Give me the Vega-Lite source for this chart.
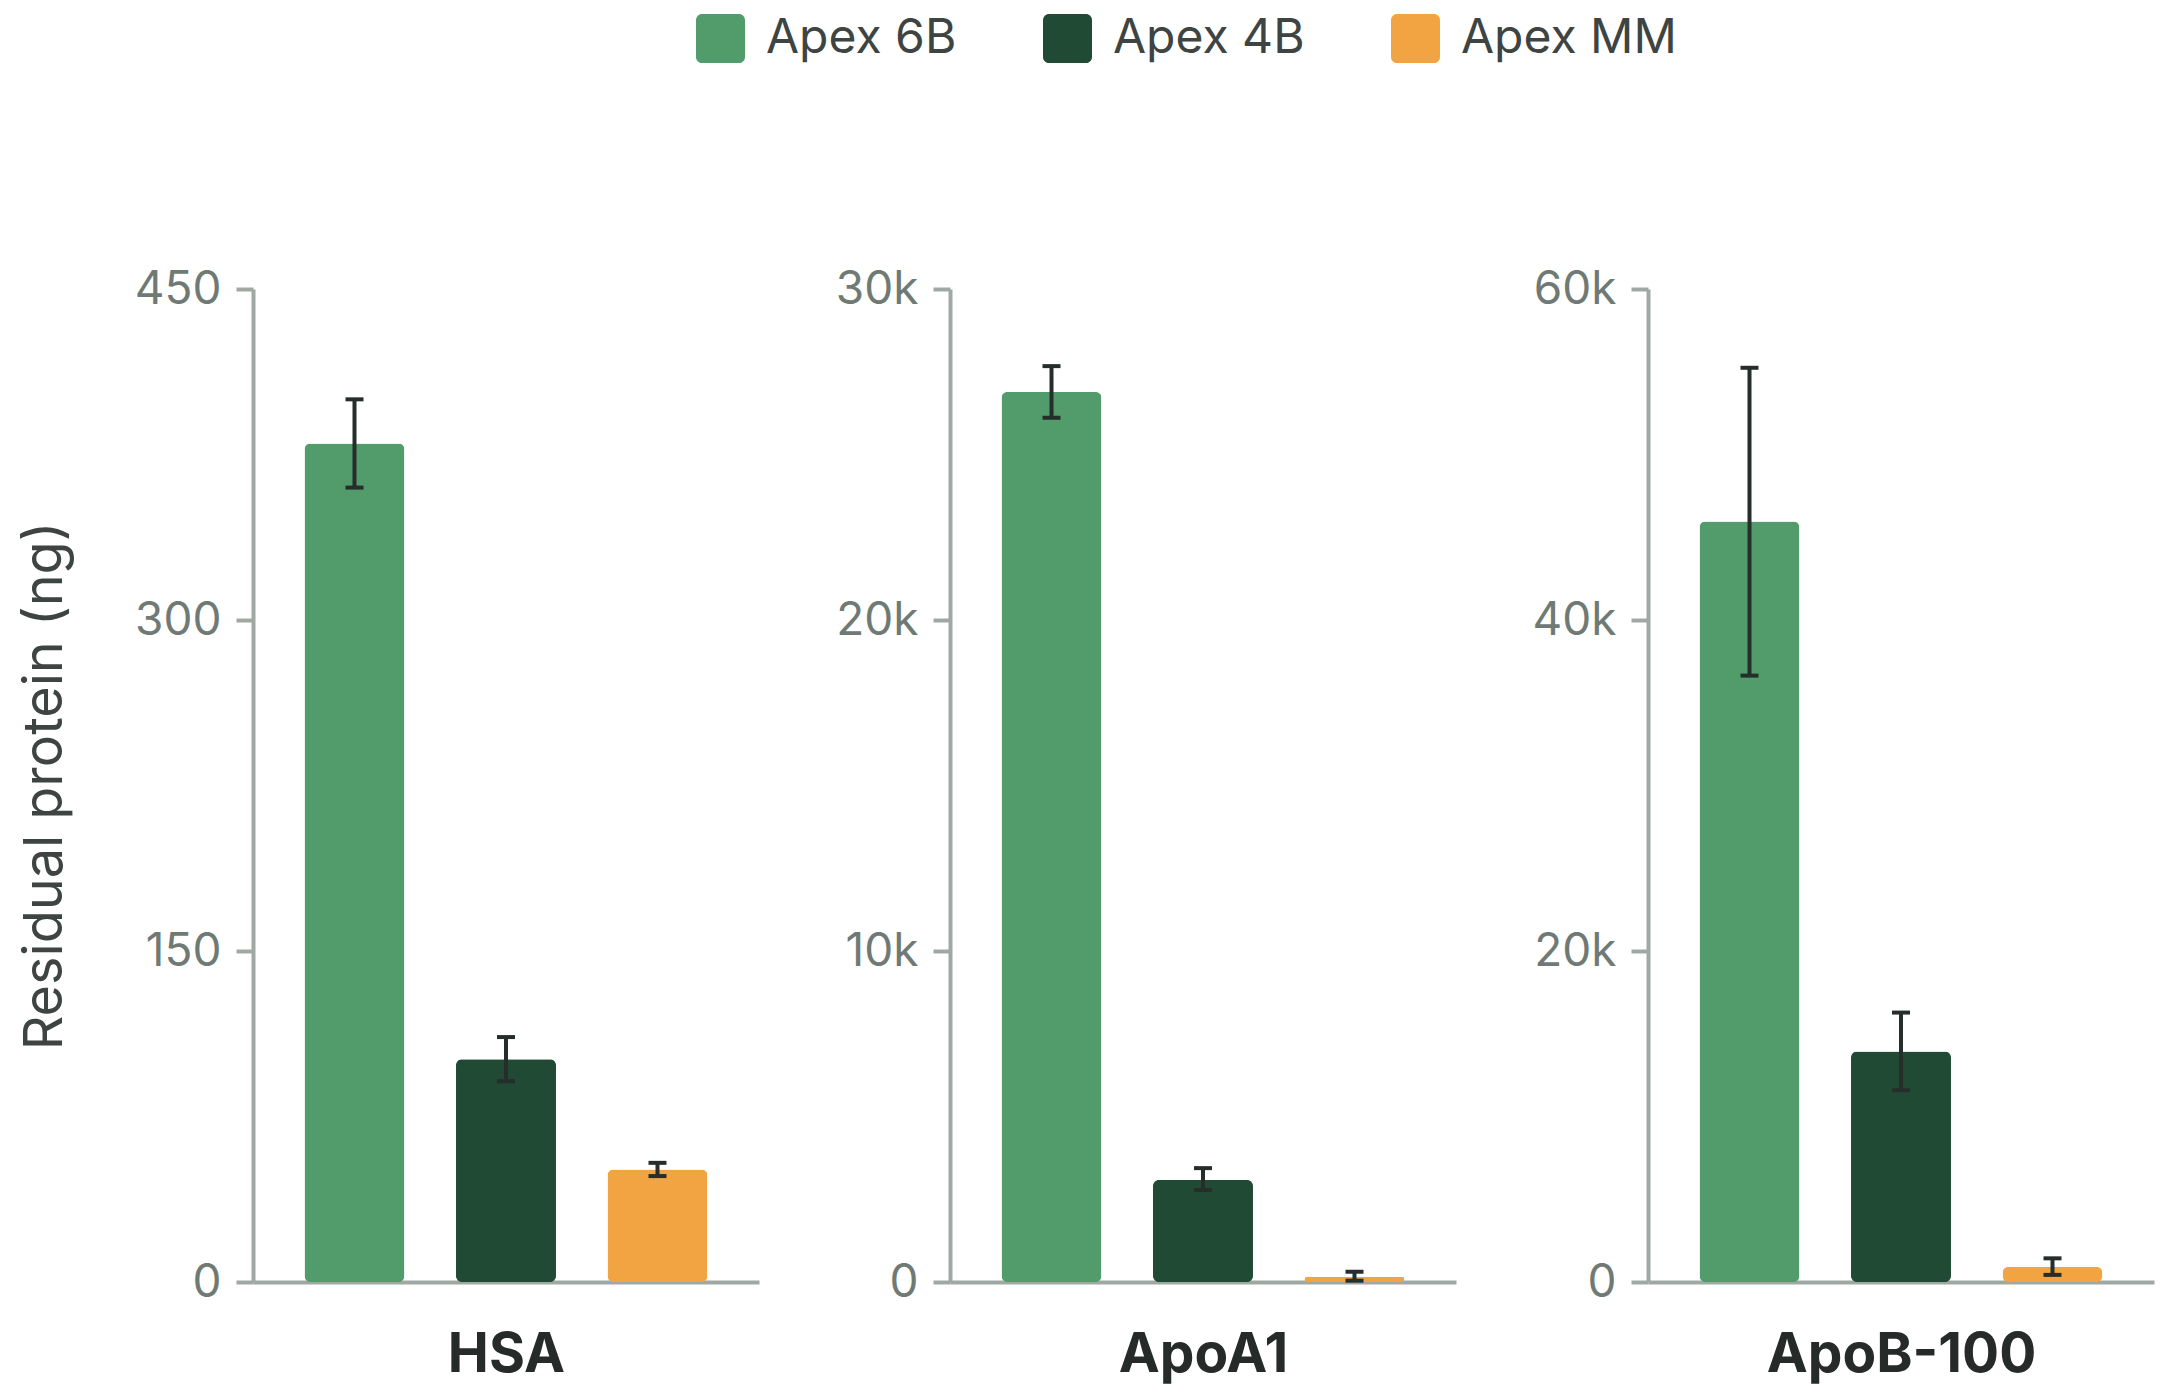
{
  "$schema": "https://vega.github.io/schema/vega-lite/v6.json",
  "background": "white",
  "padding": {"left": 18, "top": 14, "right": 10, "bottom": 10},
  "config": {
    "font": "Inter",
    "view": {"stroke": null},
    "axis": {
      "grid": false,
      "domainColor": "#a0a8a4", "domainWidth": 4,
      "tickColor": "#a0a8a4", "tickWidth": 4, "tickSize": 17,
      "labelColor": "#6f7a75", "labelFontSize": 46, "labelPadding": 15, "labelFontWeight": "normal",
      "titleColor": "#3d4441", "titleFontWeight": "normal"
    },
    "legend": {
      "symbolType": "M-0.75,-1H0.75A0.25,0.25 0 0 1 1,-0.75V0.75A0.25,0.25 0 0 1 0.75,1H-0.75A0.25,0.25 0 0 1 -1,0.75V-0.75A0.25,0.25 0 0 1 -0.75,-1Z",
      "symbolSize": 2401, "symbolStrokeWidth": 0, "symbolOpacity": 1,
      "labelFontSize": 48, "labelColor": "#3d4441", "labelOffset": 21, "labelLimit": 0,
      "columnPadding": 86, "padding": 0
    }
  },
  "data": {"values": [
    {"protein": "HSA", "resin": "Apex 6B", "value": 380, "lo": 360, "hi": 400},
    {"protein": "HSA", "resin": "Apex 4B", "value": 101, "lo": 91, "hi": 111},
    {"protein": "HSA", "resin": "Apex MM", "value": 51, "lo": 48, "hi": 54},
    {"protein": "ApoA1", "resin": "Apex 6B", "value": 26890, "lo": 26110, "hi": 27670},
    {"protein": "ApoA1", "resin": "Apex 4B", "value": 3080, "lo": 2780, "hi": 3440},
    {"protein": "ApoA1", "resin": "Apex MM", "value": 160, "lo": 40, "hi": 310},
    {"protein": "ApoB-100", "resin": "Apex 6B", "value": 45950, "lo": 36640, "hi": 55240},
    {"protein": "ApoB-100", "resin": "Apex 4B", "value": 13920, "lo": 11590, "hi": 16280},
    {"protein": "ApoB-100", "resin": "Apex MM", "value": 900, "lo": 430, "hi": 1430}
  ]},
  "resolve": {"scale": {"y": "independent", "color": "shared"}},
  "spacing": 76,
  "hconcat": [
    {
      "width": 506, "height": 993,
      "transform": [{"filter": "datum.protein === 'HSA'"}],
      "encoding": {
        "x": {"field": "resin", "type": "nominal", "sort": ["Apex 6B", "Apex 4B", "Apex MM"],
          "scale": {"paddingInner": 0.34, "paddingOuter": 0.34},
          "axis": {"title": "HSA", "labels": false, "ticks": false, "titleFontSize": 55, "titleFontWeight": "bold", "titleColor": "#262b29", "titlePadding": 46}}
      },
      "layer": [
        {
          "mark": {"type": "bar", "cornerRadius": 6},
          "encoding": {
            "y": {"field": "value", "type": "quantitative", "title": "Residual protein (ng)",
              "scale": {"domain": [0, 450], "nice": false},
              "axis": {"values": [0, 150, 300, 450], "titleFontSize": 54, "titlePadding": 62}},
            "color": {"field": "resin", "type": "nominal",
              "scale": {"domain": ["Apex 6B", "Apex 4B", "Apex MM"], "range": ["#529b6a", "#204a33", "#f2a443"]},
              "legend": {"orient": "none", "direction": "horizontal", "legendX": 443, "legendY": -275, "title": null}}
          }
        },
        {
          "mark": {"type": "rule", "strokeWidth": 4, "color": "#252e2a"},
          "encoding": {"y": {"field": "lo", "type": "quantitative", "title": "Residual protein (ng)"}, "y2": {"field": "hi"}}
        },
        {
          "mark": {"type": "tick", "orient": "horizontal", "size": 18, "thickness": 4, "color": "#252e2a", "opacity": 1},
          "encoding": {"y": {"field": "hi", "type": "quantitative", "title": "Residual protein (ng)"}}
        },
        {
          "mark": {"type": "tick", "orient": "horizontal", "size": 18, "thickness": 4, "color": "#252e2a", "opacity": 1},
          "encoding": {"y": {"field": "lo", "type": "quantitative", "title": "Residual protein (ng)"}}
        }
      ]
    },
    {
      "width": 506, "height": 993,
      "transform": [{"filter": "datum.protein === 'ApoA1'"}],
      "encoding": {
        "x": {"field": "resin", "type": "nominal", "sort": ["Apex 6B", "Apex 4B", "Apex MM"],
          "scale": {"paddingInner": 0.34, "paddingOuter": 0.34},
          "axis": {"title": "ApoA1", "labels": false, "ticks": false, "titleFontSize": 55, "titleFontWeight": "bold", "titleColor": "#262b29", "titlePadding": 46}}
      },
      "layer": [
        {
          "mark": {"type": "bar", "cornerRadius": 6},
          "encoding": {
            "y": {"field": "value", "type": "quantitative", "title": null,
              "scale": {"domain": [0, 30000], "nice": false},
              "axis": {"values": [0, 10000, 20000, 30000], "format": "~s", "labelExpr": "datum.value === 0 ? '0' : datum.label"}},
            "color": {"field": "resin", "type": "nominal",
              "scale": {"domain": ["Apex 6B", "Apex 4B", "Apex MM"], "range": ["#529b6a", "#204a33", "#f2a443"]},
              "legend": {"orient": "none", "direction": "horizontal", "legendX": 443, "legendY": -275, "title": null}}
          }
        },
        {
          "mark": {"type": "rule", "strokeWidth": 4, "color": "#252e2a"},
          "encoding": {"y": {"field": "lo", "type": "quantitative", "title": null}, "y2": {"field": "hi"}}
        },
        {
          "mark": {"type": "tick", "orient": "horizontal", "size": 18, "thickness": 4, "color": "#252e2a", "opacity": 1},
          "encoding": {"y": {"field": "hi", "type": "quantitative", "title": null}}
        },
        {
          "mark": {"type": "tick", "orient": "horizontal", "size": 18, "thickness": 4, "color": "#252e2a", "opacity": 1},
          "encoding": {"y": {"field": "lo", "type": "quantitative", "title": null}}
        }
      ]
    },
    {
      "width": 506, "height": 993,
      "transform": [{"filter": "datum.protein === 'ApoB-100'"}],
      "encoding": {
        "x": {"field": "resin", "type": "nominal", "sort": ["Apex 6B", "Apex 4B", "Apex MM"],
          "scale": {"paddingInner": 0.34, "paddingOuter": 0.34},
          "axis": {"title": "ApoB-100", "labels": false, "ticks": false, "titleFontSize": 55, "titleFontWeight": "bold", "titleColor": "#262b29", "titlePadding": 46}}
      },
      "layer": [
        {
          "mark": {"type": "bar", "cornerRadius": 6},
          "encoding": {
            "y": {"field": "value", "type": "quantitative", "title": null,
              "scale": {"domain": [0, 60000], "nice": false},
              "axis": {"values": [0, 20000, 40000, 60000], "format": "~s", "labelExpr": "datum.value === 0 ? '0' : datum.label"}},
            "color": {"field": "resin", "type": "nominal",
              "scale": {"domain": ["Apex 6B", "Apex 4B", "Apex MM"], "range": ["#529b6a", "#204a33", "#f2a443"]},
              "legend": {"orient": "none", "direction": "horizontal", "legendX": 443, "legendY": -275, "title": null}}
          }
        },
        {
          "mark": {"type": "rule", "strokeWidth": 4, "color": "#252e2a"},
          "encoding": {"y": {"field": "lo", "type": "quantitative", "title": null}, "y2": {"field": "hi"}}
        },
        {
          "mark": {"type": "tick", "orient": "horizontal", "size": 18, "thickness": 4, "color": "#252e2a", "opacity": 1},
          "encoding": {"y": {"field": "hi", "type": "quantitative", "title": null}}
        },
        {
          "mark": {"type": "tick", "orient": "horizontal", "size": 18, "thickness": 4, "color": "#252e2a", "opacity": 1},
          "encoding": {"y": {"field": "lo", "type": "quantitative", "title": null}}
        }
      ]
    }
  ]
}
